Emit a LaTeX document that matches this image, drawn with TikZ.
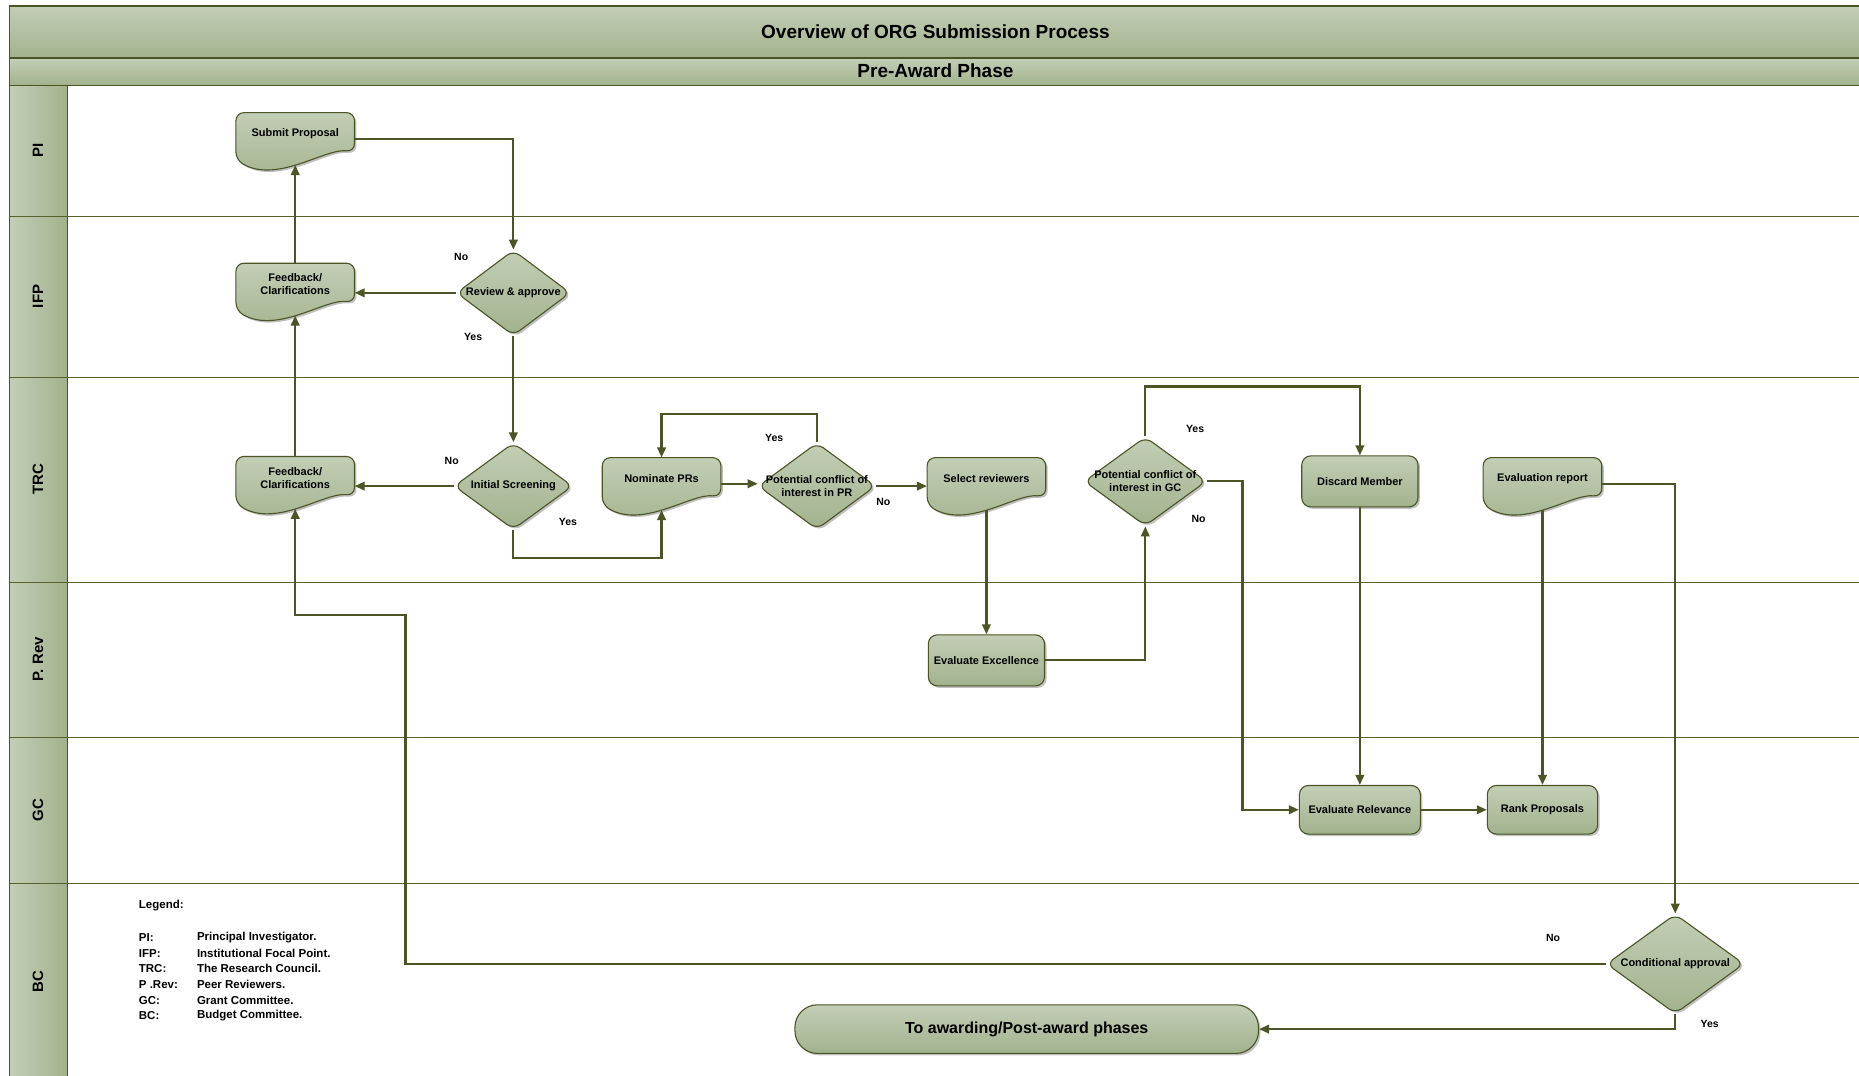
\documentclass[tikz,border=0pt]{standalone}
\usepackage{fontspec}
\setmainfont{Liberation Sans}
\usetikzlibrary{arrows.meta,calc,shapes.geometric,shadows}

\definecolor{boxtop}{HTML}{C3CEB6}
\definecolor{boxbot}{HTML}{A2B28D}
\definecolor{edgeol}{HTML}{4A5424}
\definecolor{flowol}{HTML}{4B5526}
\definecolor{laneol}{HTML}{56612E}

\newcommand\dpx{1.1856pt}
\newcommand\nodefont{\bfseries\fontsize{11}{13}\selectfont}

\tikzset{
    band/.style={draw=edgeol, line width=1.2pt, top color=boxtop, bottom color=boxbot},
    lane/.style={draw=laneol, line width=1pt},
    lanehead/.style={rotate=90, font=\bfseries\fontsize{15}{17}\selectfont},
    boxshadow/.style={drop shadow={shadow xshift=2pt, shadow yshift=-2pt, opacity=0.35, fill=black!70}},
    process/.style={draw=edgeol, line width=1.1pt, rounded corners=9pt, top color=boxtop, bottom color=boxbot,
        boxshadow, font=\nodefont, align=center, inner sep=2pt, minimum width=98*\dpx, minimum height=43*\dpx},
    decision/.style={diamond, draw=edgeol, line width=1.1pt, rounded corners=8pt, top color=boxtop, bottom color=boxbot,
        boxshadow, inner sep=0pt},
    dtext/.style={font=\nodefont, align=center},
    docshape/.style={draw=edgeol, line width=1.1pt, rounded corners=8pt, top color=boxtop, bottom color=boxbot, boxshadow},
    docanchor/.style={inner sep=0pt, minimum width=100*\dpx, minimum height=44*\dpx},
    terminal/.style={process, rounded corners=19*\dpx, font=\bfseries\fontsize{16}{18}\selectfont,
        minimum width=391*\dpx, minimum height=41*\dpx},
    flow/.style={draw=flowol, line width=2.2pt, -{Triangle[length=10pt,width=8.5pt]}},
    yesno/.style={font=\bfseries\fontsize{10.5}{12}\selectfont},
    legendtext/.style={anchor=west, inner sep=0pt, font=\bfseries\fontsize{11.5}{13}\selectfont},
}

% document box: wavy bottom, text sits high
\newcommand\docbox[3]{%
    \path[docshape] ($(#2)+(-50,-24)$) -- ($(#2)+(50,-24)$) -- ($(#2)+(50,9)$)
        .. controls ($(#2)+(25,6)$) and ($(#2)+(-15,36)$) .. ($(#2)+(-50,16)$) -- cycle;
    \node[docanchor, label={[dtext, yshift=4*\dpx]center:{#3}}] (#1) at ($(#2)+(0,-2)$) {};
}

\begin{document}
\begin{tikzpicture}[x=\dpx, y=-\dpx]
    \useasboundingbox (0,0) rectangle (1568,907);
    \fill[white] (0,0) rectangle (1568,907);

    % bands and lanes
    \path[band] (8,5) rectangle (1580,49);
    \path[band] (8,49) rectangle (1580,72);
    \path[draw=edgeol, line width=1.2pt, left color=boxtop, right color=boxbot] (8,72) rectangle (57,920);
    \foreach \y in {183,318,491,622,745}
        \draw[lane] (8,\y) -- (1580,\y);

    \node[font=\bfseries\fontsize{19}{21}\selectfont] (title) at (789,27) {Overview of ORG Submission Process};
    \node[font=\bfseries\fontsize{19}{21}\selectfont] (phase) at (789,60) {Pre-Award Phase};

    \node[lanehead] (lpi) at (32,127) {PI};
    \node[lanehead] (lifp) at (32,250) {IFP};
    \node[lanehead] (ltrc) at (32,404) {TRC};
    \node[lanehead] (lrev) at (32,556) {P. Rev};
    \node[lanehead] (lgc) at (32,683) {GC};
    \node[lanehead] (lbc) at (32,828) {BC};

    % steps
    \docbox{submit}{249,119}{Submit Proposal}
    \docbox{fbifp}{249,246}{Feedback/\\Clarifications}
    \docbox{fbtrc}{249,409}{Feedback/\\Clarifications}
    \docbox{nominate}{558,410}{Nominate PRs}
    \docbox{select}{832,410}{Select reviewers}
    \docbox{evalrep}{1301,410}{Evaluation report}

    \node[decision, minimum width=96*\dpx, minimum height=72*\dpx, label={[dtext]center:Review \& approve}] (review) at (433,247) {};
    \node[decision, minimum width=100*\dpx, minimum height=73*\dpx, label={[dtext]center:Initial Screening}] (screen) at (433,410) {};
    \node[decision, minimum width=99*\dpx, minimum height=73*\dpx, label={[dtext]center:{Potential conflict of\\interest in PR}}] (cpr) at (689,410) {};
    \node[decision, minimum width=103*\dpx, minimum height=75*\dpx, label={[dtext]center:{Potential conflict of\\interest in GC}}] (cgc) at (966,406) {};
    \node[decision, minimum width=116*\dpx, minimum height=84*\dpx, label={[dtext]center:Conditional approval}] (condit) at (1413,813) {};

    \node[process] (discard) at (1147,406) {Discard Member};
    \node[process] (excel) at (832,557) {Evaluate Excellence};
    \node[process, minimum width=102*\dpx, minimum height=41*\dpx] (relev) at (1147,683) {Evaluate Relevance};
    \node[process, minimum width=93*\dpx, minimum height=41*\dpx] (rank) at (1301,683) {Rank Proposals};
    \node[terminal] (award) at (866,868) {To awarding/Post-award phases};

    % connectors
    \draw[flow] (submit.east) -| (review.north);
    \draw[flow] (review.west) -- (review.west -| fbifp.east);
    \draw[flow] (review.south) -- (screen.north);
    \draw[flow] (fbifp.north) -- (submit.south);
    \draw[flow] (fbtrc.north) -- (fbifp.south);
    \draw[flow] (screen.west) -- (screen.west -| fbtrc.east);
    \draw[flow] (screen.south) -- ++(0,24) -| (nominate.south);
    \draw[flow] (nominate.east) -- (nominate.east -| cpr.west);
    \draw[flow] (cpr.north) -- ++(0,-24) -| (nominate.north);
    \draw[flow] (cpr.east) -- (cpr.east -| select.west);
    \draw[flow] (select.south) -- (excel.north);
    \draw[flow] (excel.east) -| (cgc.south);
    \draw[flow] (cgc.north) -- ++(0,-42) -| (discard.north);
    \draw[flow] (cgc.east) -- ++(30,0) |- (relev.west);
    \draw[flow] (discard.south) -- (relev.north);
    \draw[flow] (relev.east) -- (rank.west);
    \draw[flow] (evalrep.south) -- (rank.north);
    \draw[flow] (evalrep.east) -| (condit.north);
    \coordinate (nobend) at (342,519);
    \draw[flow] (condit.west) -| (nobend) -| (fbtrc.south);
    \draw[flow] (condit.south) |- (award.east);

    % yes / no
    \node[yesno] (rno) at (389,217) {No};
    \node[yesno] (ryes) at (399,284) {Yes};
    \node[yesno] (sno) at (381,389) {No};
    \node[yesno] (syes) at (479,440) {Yes};
    \node[yesno] (pyes) at (653,369) {Yes};
    \node[yesno] (pno) at (745,423) {No};
    \node[yesno] (gyes) at (1008,362) {Yes};
    \node[yesno] (gno) at (1011,438) {No};
    \node[yesno] (cno) at (1310,791) {No};
    \node[yesno] (cyes) at (1442,864) {Yes};

    % legend
    \node[legendtext] (legend) at (117,764) {Legend:};
    \foreach \k/\v [count=\i] in {PI:/Principal Investigator., IFP:/Institutional Focal Point.,
        TRC:/The Research Council., P .Rev:/Peer Reviewers., GC:/Grant Committee., BC:/Budget Committee.} {
        \node[legendtext] (key\i) at (117,{777.5+13.2*\i}) {\k};
        \node[legendtext] (val\i) at (166,{777.5+13.2*\i}) {\v};
    }
\end{tikzpicture}
\end{document}
